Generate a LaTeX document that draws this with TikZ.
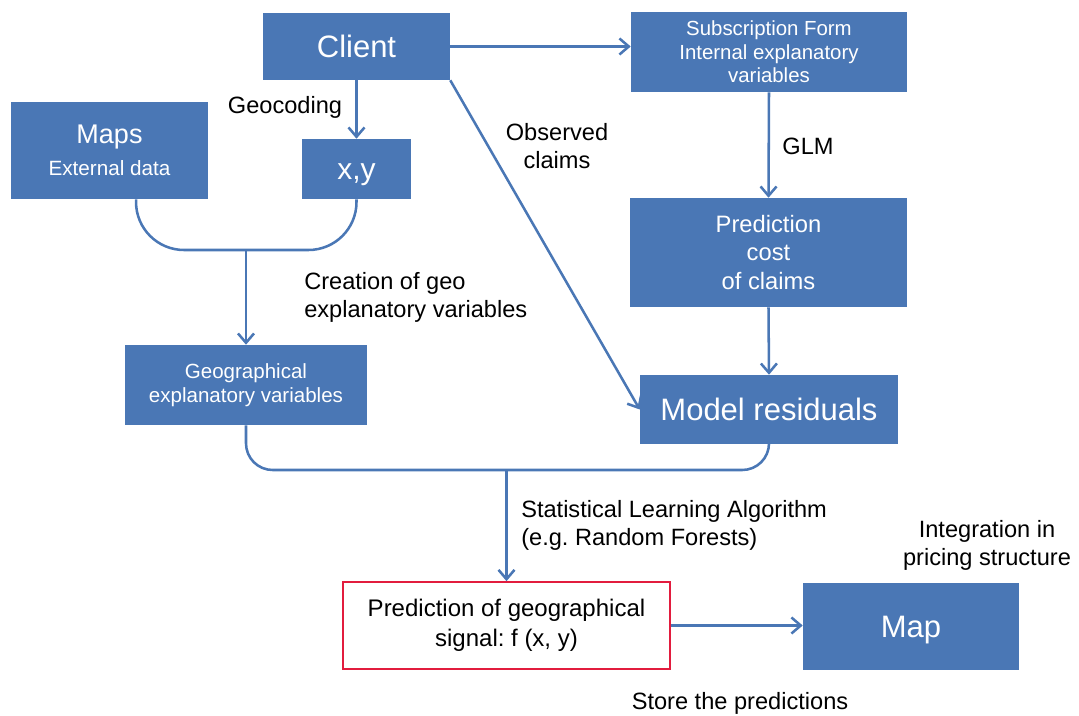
\documentclass[tikz,border=0pt]{standalone}
\usepackage{fontspec}
\setmainfont{Liberation Sans}
\usetikzlibrary{arrows.meta}
\definecolor{boxblue}{RGB}{74,119,181}
\definecolor{signalred}{RGB}{226,28,62}

\begin{document}
\frenchspacing
\begin{tikzpicture}[x=0.75pt,y=-0.75pt,
  bsize/.style 2 args={minimum width=#1*0.75pt, minimum height=#2*0.75pt},
  block/.style={fill=boxblue, text=white, inner sep=0pt, align=center},
  link/.style={draw=boxblue, line width=1.9pt, line join=round},
  arr/.style={link, -{Straight Barb[length=7pt,width=12pt]}},
  lbl/.style={text=black, inner sep=0pt, font=\fontsize{17.7}{21}\selectfont},
]
\useasboundingbox (0,0) rectangle (1079,716);

% boxes
\node[block, bsize={187}{67}, font=\fontsize{23.25}{28}\selectfont] (client) at (356.5,46.5) {Client};
\node[block, bsize={276}{80}, font=\fontsize{15.3}{17.6}\selectfont] (subs) at (769,52) {Subscription Form\\Internal explanatory\\variables};
\node[block, bsize={197}{97}, font=\fontsize{20.25}{24}\selectfont] (maps) at (109.5,150.5) {Maps\\{\fontsize{15.5}{19.5}\selectfont External data}};
\node[block, bsize={109}{60}, font=\fontsize{22.5}{27}\selectfont, text height=19.8pt] (xy) at (356.5,169) {x,y};
\node[block, bsize={277}{109}, font=\fontsize{17.8}{21.4}\selectfont] (pred) at (768.5,252.5) {Prediction\\cost\\of claims};
\node[block, bsize={242}{80}, font=\fontsize{15.4}{18}\selectfont] (geo) at (246,385) {Geographical\\explanatory variables};
\node[block, bsize={258}{69}, font=\fontsize{23.25}{28}\selectfont] (resid) at (769,409.5) {Model residuals};
\node[draw=signalred, line width=1.3pt, fill=white, inner sep=0pt, align=center, bsize={327}{87}, font=\fontsize{18}{22.5}\selectfont] (signal) at (506.5,625.5) {Prediction of geographical\\signal: f (x, y)};
\node[block, bsize={216}{87}, font=\fontsize{23.25}{28}\selectfont, text depth=0pt] (map) at (911,626.5) {Map};

% labels
\node[lbl] (geocoding) at (285,107) {Geocoding};
\node[lbl, align=center] (observed) at (557,146) {Observed\\claims};
\node[lbl] (glm) at (808,146) {GLM};
\node[lbl, align=left, anchor=west] (creation) at (304,297) {Creation of geo\\explanatory variables};
\node[lbl, align=left, anchor=west] (sla) at (521,525) {Statistical Learning Algorithm\\(e.g. Random Forests)};
\node[lbl, align=center] (integ) at (987,545) {Integration in\\pricing structure};
\node[lbl] (store) at (740,703) {Store the predictions};

% connectors
\draw[arr] (client.east) -- (client.east -| subs.west);
\draw[arr] (client.south) -- (xy.north);
\draw[arr] (client.south east) -- (resid.west);
\draw[arr] (subs.south) -- (pred.north);
\draw[arr] (pred.south) -- (resid.north);

\coordinate (j1) at (246,250);
\draw[link, rounded corners=36pt] ([xshift=19.9pt]maps.south) |- (j1) -| (xy.south);
\draw[arr] (j1) -- (geo.north);

\coordinate (j2) at (506.5,470);
\draw[link, rounded corners=20pt] (geo.south) |- (j2) -| (resid.south);
\draw[arr] (j2) -- (signal.north);

\draw[arr] (signal.east) -- (signal.east -| map.west);
\end{tikzpicture}
\end{document}
